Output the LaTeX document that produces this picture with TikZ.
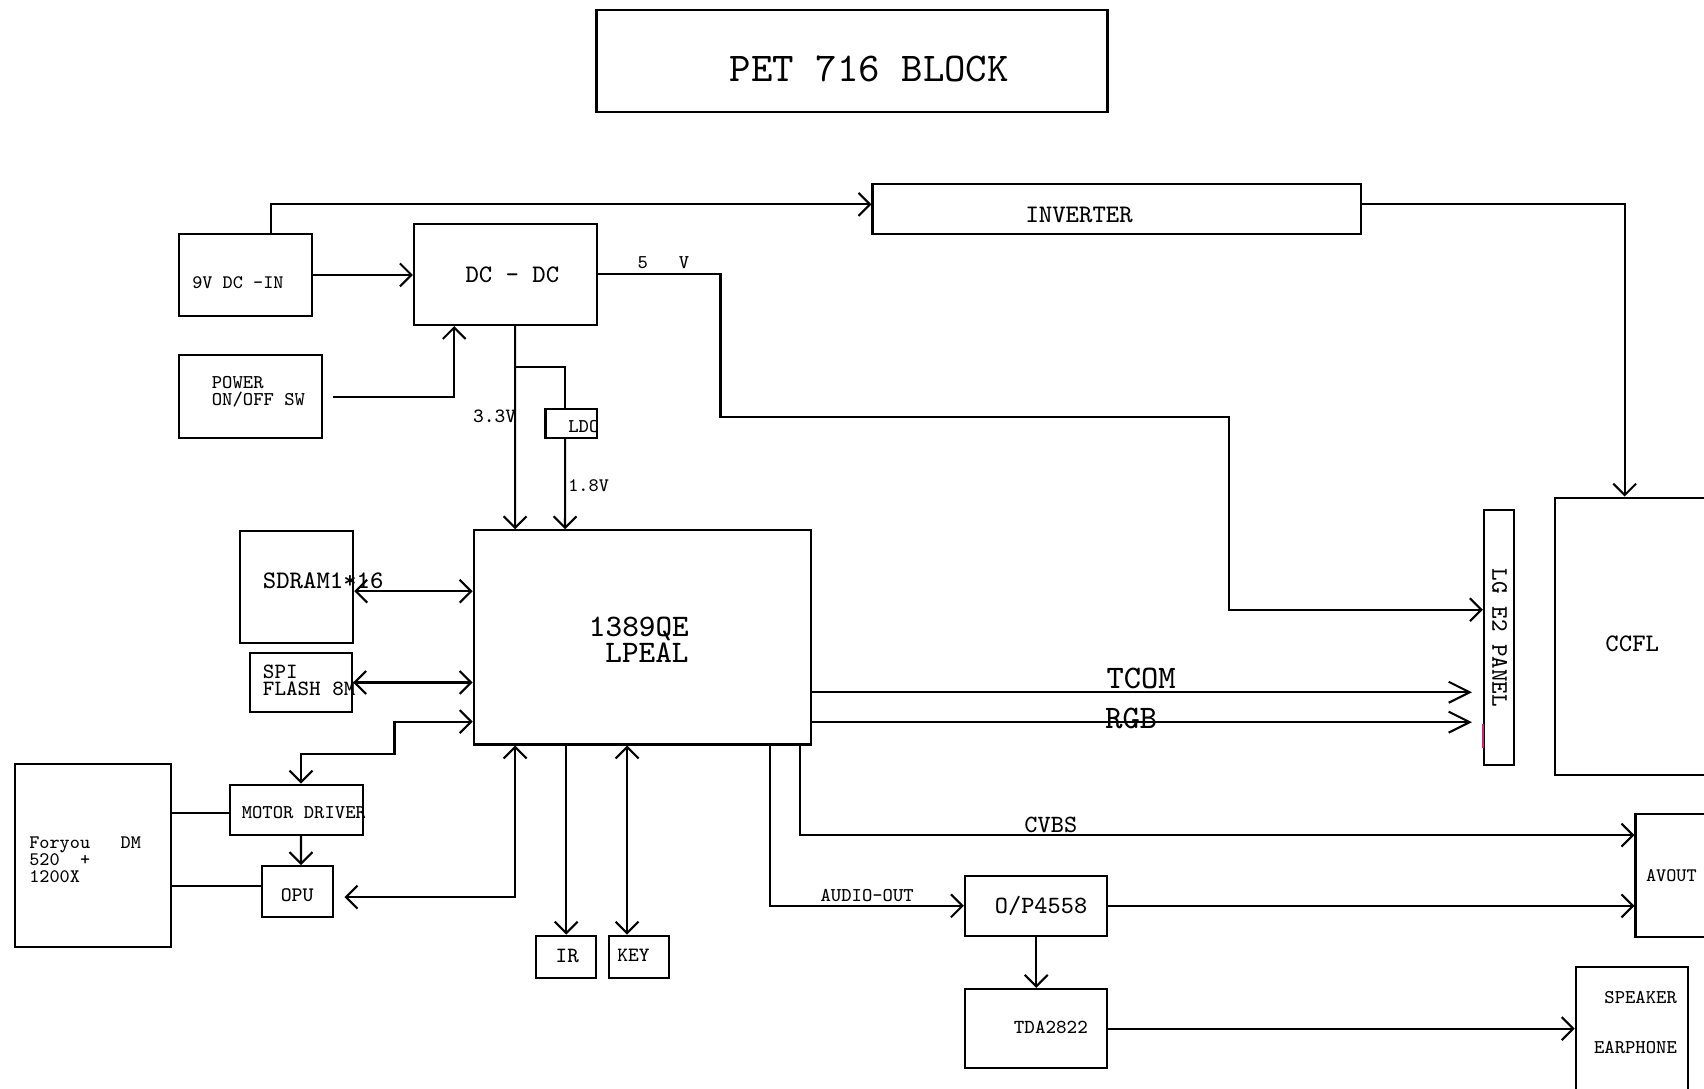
\documentclass[tikz,border=0pt]{standalone}
\usepackage{fontspec}
\usetikzlibrary{arrows.meta,calc}
\definecolor{markpink}{RGB}{200,40,120}

\begin{document}
\begin{tikzpicture}[x=0.01cm, y=-0.01cm, line width=0.55pt,
    blk/.style={draw, inner sep=0pt},
    lbl/.style={inner sep=0pt, align=left, font=\ttfamily\fontsize{#1pt}{#1pt}\selectfont},
    arr/.style={-{Straight Barb[length=3pt,width=6pt]}},
    darr/.style={{Straight Barb[length=3pt,width=6pt]}-{Straight Barb[length=3pt,width=6pt]}},
    bigarr/.style={-{Straight Barb[length=5.5pt,width=5.5pt]}}]

    \useasboundingbox (0,0) rectangle (1568,1002);
    \clip (0,0) rectangle (1568,1002);

    % Title
    \node[blk, minimum width=4.70cm, minimum height=0.94cm] (title) at (784,56) {};
    \node[lbl=10.7] (titletxt) at (800,63) {PET 716 BLOCK};

    % Power blocks
    \node[blk, minimum width=1.22cm, minimum height=0.76cm] (dcin) at (226,253) {};
    \node[lbl=5.0, anchor=west] (dcintxt) at (176,260) {9V DC -IN};
    \node[blk, minimum width=1.68cm, minimum height=0.93cm] (dcdc) at (465,252.5) {};
    \node[lbl=6.6] (dcdctxt) at (471.5,253) {DC - DC};
    \node[blk, minimum width=1.31cm, minimum height=0.76cm] (pwrsw) at (230.5,365) {};
    \node[lbl=5.1, anchor=west] (pwrswtxt) at (194,360.5) {POWER\\[-0.8pt]ON/OFF SW};
    \node[blk, minimum width=4.49cm, minimum height=0.46cm] (inverter) at (1027.5,192) {};
    \node[lbl=6.6] (invtxt) at (993,198) {INVERTER};
    \node[blk, minimum width=0.47cm, minimum height=0.27cm] (ldo) at (525.5,389.5) {};
    \begin{scope}
        \clip (ldo.south west) rectangle (ldo.north east);
        \node[lbl=5.1, anchor=west] (ldotxt) at (522,392.5) {LDO};
    \end{scope}

    % Main chip and memories
    \node[blk, minimum width=3.10cm, minimum height=1.97cm] (mcu) at (591,586.5) {};
    \node[lbl=8.2, anchor=west] (mcutxt) at (541,588.5) {1389QE\\[-1.5pt]\hspace*{0.525em}LPEAL};
    \node[blk, minimum width=1.04cm, minimum height=1.03cm] (sdram) at (273,540) {};
    \node[lbl=6.6, anchor=west] (sdramtxt) at (241,534.5) {SDRAM1*16};
    \node[blk, minimum width=0.94cm, minimum height=0.55cm] (flash) at (277,628) {};
    \node[lbl=5.7, anchor=west] (flashtxt) at (241,626) {SPI\\[-1.1pt]FLASH 8M};

    % Loader side
    \node[blk, minimum width=1.43cm, minimum height=1.68cm] (foryou) at (85.5,787) {};
    \node[lbl=5.0, anchor=west] (foryoutxt) at (26,791) {Foryou\ \ \ DM\\[-0.5pt]520\ \ +\\[-0.5pt]1200X};
    \node[blk, minimum width=1.22cm, minimum height=0.46cm] (motor) at (273,745) {};
    \begin{scope}
        \clip (motor.south west) rectangle (motor.north east);
        \node[lbl=5.1, anchor=west] (motortxt) at (221.5,748) {MOTOR DRIVER};
    \end{scope}
    \node[blk, minimum width=0.65cm, minimum height=0.47cm] (opu) at (273.5,820.5) {};
    \node[lbl=5.4] (oputxt) at (273.5,823.5) {OPU};
    \node[blk, minimum width=0.55cm, minimum height=0.39cm] (ir) at (521,880.5) {};
    \node[lbl=5.7] (irtxt) at (522,879.5) {IR};
    \node[blk, minimum width=0.56cm, minimum height=0.39cm] (key) at (588,880.5) {};
    \node[lbl=5.3] (keytxt) at (583,879) {KEY};

    % Panel, backlight and outputs
    \node[blk, minimum width=0.28cm, minimum height=2.35cm] (panel) at (1379.5,586.5) {};
    \node[lbl=6.2, rotate=-90] (paneltxt) at (1380,587) {LG E2 PANEL};
    \node[blk, minimum width=2.09cm, minimum height=2.55cm] (ccfl) at (1535.5,585.5) {};
    \node[lbl=6.6] (ccfltxt) at (1502,592) {CCFL};
    \node[blk, minimum width=1.35cm, minimum height=1.13cm] (avout) at (1572.5,805.5) {};
    \node[lbl=5.0] (avouttxt) at (1538,806) {AVOUT};
    \node[blk, minimum width=1.31cm, minimum height=0.55cm] (opamp) at (953.5,833.5) {};
    \node[lbl=6.5] (opamptxt) at (958,834) {O/P4558};
    \node[blk, minimum width=1.31cm, minimum height=0.73cm] (tda) at (953.5,946.5) {};
    \node[lbl=5.2] (tdatxt) at (967,945) {TDA2822};
    \node[blk, minimum width=1.03cm, minimum height=1.70cm] (spk) at (1501.5,975) {};
    \node[lbl=5.1, anchor=east] (spktxt) at (1544,917.5) {SPEAKER};
    \node[lbl=5.1, anchor=east] (eartxt) at (1544,963.5) {EARPHONE};
    \draw[markpink] ($(panel.south west)+(0,-39)$) -- ++(0,22);

    % Supply lines
    \draw[arr] ($(dcin.north)+(23,0)$) |- ($(inverter.west)+(0,-4)$);
    \draw[arr] ($(inverter.east)+(0,-4)$) -| ($(ccfl.north west)+(65,0)$);
    \draw[arr] (dcin.east) -- (dcin.east -| dcdc.west);
    \draw[arr] ($(pwrsw.east)+(9,0)$) -| ($(dcdc.south west)+(38,0)$);
    \coordinate (v5a) at (663,384);
    \coordinate (v5b) at (1131,561);
    \draw[arr] (dcdc.east) -| (v5a) -| (v5b) -- (v5b -| panel.west);
    \node[lbl=5.1] (v5txt) at (610.5,242) {5\ \ \ V};
    \draw[arr] ($(dcdc.south west)+(94,0)$) -- ($(mcu.north west)+(39,0)$);
    \coordinate (br) at ($(dcdc.south west)+(94,38)$);
    \draw (br) -| ($(ldo.north west)+(19,0)$);
    \draw[arr] ($(ldo.south west)+(19,0)$) -- ($(mcu.north west)+(85,0)$);
    \node[lbl=5.3, anchor=east] (v33txt) at (476,383.5) {3.3V};
    \node[lbl=5.0, anchor=west] (v18txt) at (522,447) {1.8V};

    % Chip buses
    \coordinate (sd) at ($(sdram.east)+(0,4)$);
    \draw[darr] (sd) -- (sd -| mcu.west);
    \draw[darr] (flash.east) -- (flash.east -| mcu.west);
    \coordinate (md) at (363,694);
    \draw[darr] ($(motor.north west)+(66,0)$) |- (md) |- ($(mcu.south west)+(0,-22)$);
    \draw ($(motor.west)+(0,3)$) -- ($(motor.west -| foryou.east)+(0,3)$);
    \draw ($(opu.west)+(0,-5)$) -- ($(opu.west -| foryou.east)+(0,-5)$);
    \draw[arr] ($(motor.south west)+(66,0)$) -- ($(opu.north west)+(37,0)$);
    \draw[darr] ($(mcu.south west)+(39,0)$) |- ($(opu.east)+(10,5)$);
    \draw[arr] (ir.north |- mcu.south) -- (ir.north);
    \coordinate (kt) at ($(key.north west)+(18,0)$);
    \draw[darr] (kt |- mcu.south) -- (kt);

    % Video and audio out
    \coordinate (tc) at ($(mcu.east)+(0,50.5)$);
    \coordinate (rg) at ($(mcu.east)+(0,78)$);
    \draw[bigarr] (tc) -- ($(tc -| panel.west)+(-10,0)$);
    \draw[bigarr] (rg) -- ($(rg -| panel.west)+(-10,0)$);
    \node[lbl=8.6] (tcomtxt) at (1050,624) {TCOM};
    \node[lbl=8.6] (rgbtxt) at (1041,661) {RGB};
    \draw[arr] ($(mcu.south west)+(301,0)$) |- ($(avout.west)+(0,-37)$);
    \node[lbl=6.5] (cvbstxt) at (967,759) {CVBS};
    \draw[arr] ($(mcu.south west)+(274,0)$) |- (opamp.west);
    \node[lbl=5.1] (audtxt) at (798,824) {AUDIO-OUT};
    \draw[arr] (opamp.east) -- (opamp.east -| avout.west);
    \draw[arr] (opamp.south) -- (tda.north);
    \draw[arr] (tda.east) -- (tda.east -| spk.west);
\end{tikzpicture}
\end{document}
